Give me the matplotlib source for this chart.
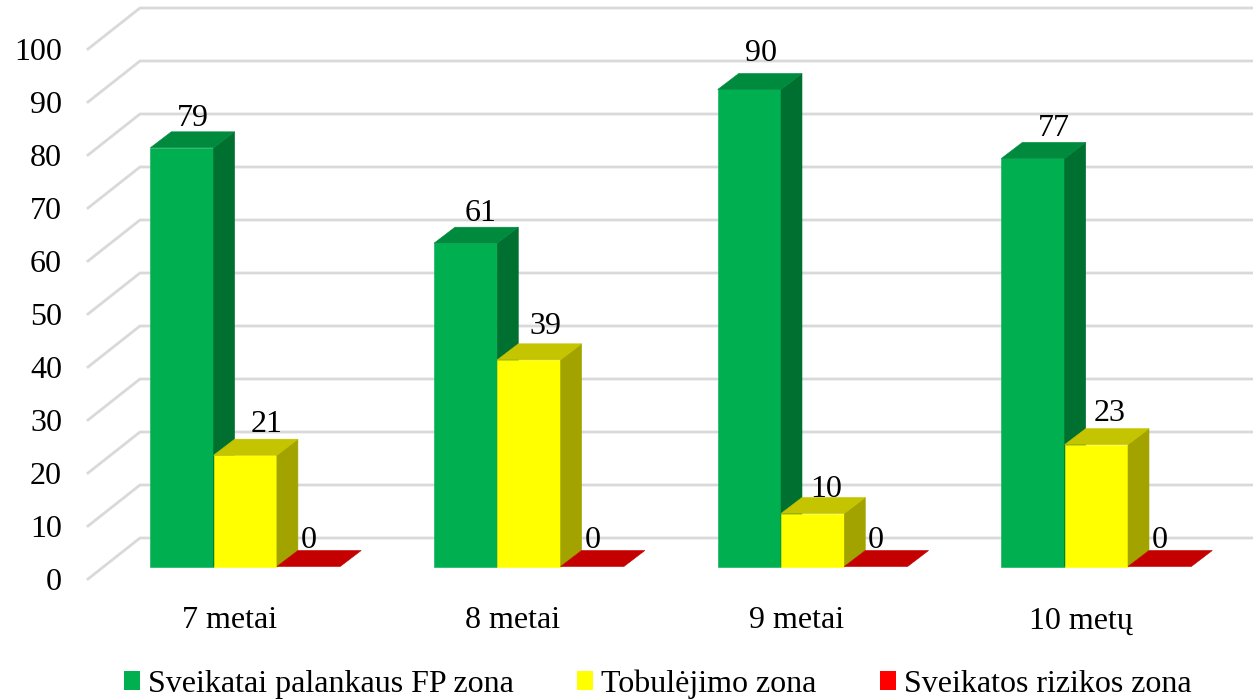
import matplotlib
matplotlib.use('Agg')
import matplotlib.pyplot as plt
from matplotlib.patches import Polygon, Patch

plt.rcParams['font.family'] = ['Liberation Serif', 'DejaVu Serif']

groups = ['7 metai', '8 metai', '9 metai', '10 metų']
series_names = ['Sveikatai palankaus FP zona', 'Tobulėjimo zona', 'Sveikatos rizikos zona']
green_vals = [79, 61, 90, 77]
yellow_vals = [21, 39, 10, 23]
red_vals = [0, 0, 0, 0]
y_ticks = [0, 10, 20, 30, 40, 50, 60, 70, 80, 90, 100]

# front, side, top colour of each series
front_cols = ['#00B050', '#FFFF00', '#FF0000']
side_cols = ['#007030', '#A3A300', '#A30000']
top_cols = ['#008A3E', '#C4C400', '#C40000']

W, H = 1253, 700
PX_X = 283.7      # pixels per group
PX_Y = 5.3        # pixels per unit
X0 = 150.3        # left edge of first group
Y0 = 566.5        # baseline of the bars
FS = 23

bar_w = 63.3 / PX_X
dx = 21 / PX_X    # bar depth
dy = 16 / PX_Y

# small nudges for the value labels, in pixels
label_dx = [[11, 21, 0], [15, 16, 0], [12, 14, 0], [21, 13, 0]]
label_dy = [[29, 31, 26], [30, 33, 26], [36, 24, 26], [30, 31, 26]]

fig = plt.figure(figsize=(W / 100, H / 100), dpi=100)
ax = fig.add_axes([0, 0, 1, 1])
ax.set_xlim(-X0 / PX_X, (W - X0) / PX_X)
ax.set_ylim(-(H - Y0) / PX_Y, Y0 / PX_Y)
ax.axis('off')

# back wall grid with the slanted floor part
grid_front_x = (88 - X0) / PX_X
grid_back_x = (140 - X0) / PX_X
grid_end_x = (W - X0) / PX_X
front_shift = (Y0 - 579) / PX_Y
back_shift = (Y0 - 538) / PX_Y
for v in y_ticks:
    ax.plot([grid_front_x, grid_back_x, grid_end_x],
            [v + front_shift, v + back_shift, v + back_shift],
            color='#D9D9D9', lw=2, solid_joinstyle='miter', zorder=1)
    ax.text((62 - X0) / PX_X, v + front_shift - 0.6, str(v), fontsize=FS,
            ha='right', va='center', color='black')

all_vals = [green_vals, yellow_vals, red_vals]
for i, name in enumerate(groups):
    for s in range(3):
        v = all_vals[s][i]
        x = i + s * bar_w
        z = 3 + i * 3 + s
        if v > 0:
            ax.add_patch(Polygon([(x, 0), (x + bar_w, 0), (x + bar_w, v), (x, v)],
                                 fc=front_cols[s], ec=front_cols[s], lw=0.4, zorder=z))
            ax.add_patch(Polygon([(x + bar_w, 0), (x + bar_w + dx, dy),
                                  (x + bar_w + dx, v + dy), (x + bar_w, v)],
                                 fc=side_cols[s], ec=side_cols[s], lw=0.4, zorder=z))
        ax.add_patch(Polygon([(x, v), (x + bar_w, v), (x + bar_w + dx, v + dy), (x + dx, v + dy)],
                             fc=top_cols[s], ec=top_cols[s], lw=0.4, zorder=z))
        ax.text(x + bar_w / 2 + label_dx[i][s] / PX_X, v + label_dy[i][s] / PX_Y, str(v),
                fontsize=FS, ha='center', va='center', color='black', zorder=50)
    ax.text(i + 1.5 * bar_w - 12.5 / PX_X - 0.012, -(621 - Y0) / PX_Y, name, fontsize=FS,
            ha='center', va='center', color='black')

handles = [Patch(fc=c, ec='none') for c in front_cols]
ax.legend(handles, series_names, loc='center', bbox_to_anchor=(657.5 / W, 1 - 684 / H),
          ncol=3, frameon=False, fontsize=FS, handlelength=0.5, handleheight=0.5,
          handletextpad=0.25, columnspacing=1.98, borderpad=0, labelspacing=0)

plt.savefig('out.png', dpi=100)
plt.close()
